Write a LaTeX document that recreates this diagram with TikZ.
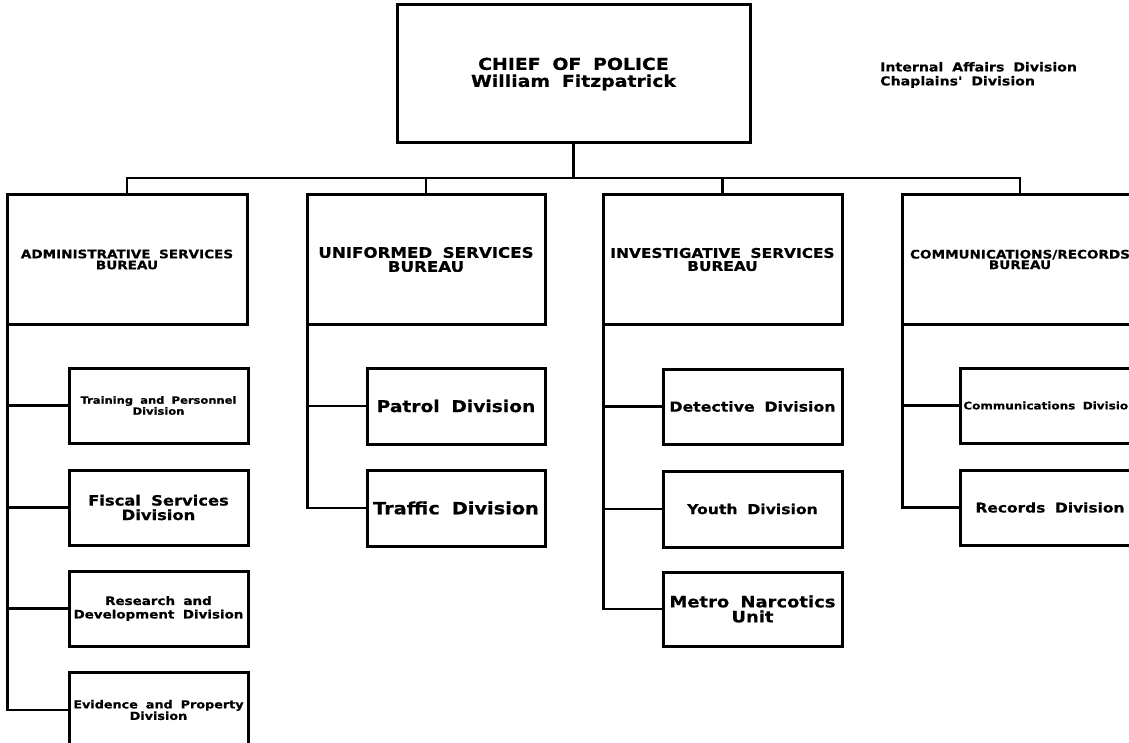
\documentclass[tikz,border=0pt]{standalone}
\usepackage{fontspec}
\setmainfont{DejaVu Sans}
\newfontfamily\wf{DejaVu Sans Bold}[FakeStretch=1.15,WordSpace=1.8,FakeBold=0.6]
\newcommand{\myfs}[2]{\fontsize{#1}{#2}\selectfont}
\begin{document}
\begin{tikzpicture}[x=1pt,y=-1pt,
  box/.style={draw, line width=3pt, rectangle, inner sep=0pt, align=center},
  conn/.style={line width=2.6pt},
  txt/.style={inner sep=0pt, align=left}]
\useasboundingbox (0,0) rectangle (1129,743);
\clip (0,0) rectangle (1129,743);
% chief
\node[box, minimum width=353pt, minimum height=138pt, font=\wf\myfs{16.4}{17}] (chief) at (573.5,74) {CHIEF OF POLICE\\William Fitzpatrick};
\node[txt, anchor=west, font=\wf\myfs{12.3}{14}] (staff) at (880,75) {Internal Affairs Division\\Chaplains' Division};
% bureaus
\node[box, minimum width=240pt, minimum height=129pt, font=\wf\myfs{11.8}{11}] (admin) at (127,259.5) {ADMINISTRATIVE SERVICES\\BUREAU};
\node[box, minimum width=238pt, minimum height=129pt, font=\wf\myfs{14.5}{14}] (unif) at (426,259.5) {UNIFORMED SERVICES\\BUREAU};
\node[box, minimum width=239pt, minimum height=129pt, font=\wf\myfs{13.4}{13}] (inv) at (722.5,259.5) {INVESTIGATIVE SERVICES\\BUREAU};
\node[box, minimum width=236pt, minimum height=129pt, font=\wf\myfs{11.8}{10.5}] (comm) at (1020,259.5) {COMMUNICATIONS/RECORDS\\BUREAU};
% admin divisions
\node[box, minimum width=179pt, minimum height=75pt, font=\wf\myfs{10}{11}] (train) at (158.5,405.5) {Training and Personnel\\Division};
\node[box, minimum width=179pt, minimum height=75pt, font=\wf\myfs{14.2}{14.5}] (fiscal) at (158.5,507.5) {Fiscal Services\\Division};
\node[box, minimum width=179pt, minimum height=75pt, font=\wf\myfs{11.7}{13.5}] (research) at (158.5,608.5) {Research and\\Development Division};
\node[box, minimum width=179pt, minimum height=76pt, font=\wf\myfs{11.1}{11.5}] (evid) at (158.5,710) {Evidence and Property\\Division};
% uniformed divisions
\node[box, minimum width=178pt, minimum height=76pt, font=\wf\myfs{16.2}{16}] (patrol) at (456,406) {Patrol Division};
\node[box, minimum width=178pt, minimum height=76pt, font=\wf\myfs{16.8}{16}] (traffic) at (456,508) {Traffic Division};
% investigative divisions
\node[box, minimum width=179pt, minimum height=75pt, font=\wf\myfs{13.7}{14}] (det) at (752.5,406.5) {Detective Division};
\node[box, minimum width=179pt, minimum height=76pt, font=\wf\myfs{13.6}{14}] (youth) at (752.5,509) {Youth Division};
\node[box, minimum width=179pt, minimum height=74pt, font=\wf\myfs{15.6}{15}] (metro) at (752.5,609) {Metro Narcotics\\Unit};
% communications divisions
\node[box, minimum width=180pt, minimum height=75pt, font=\wf\myfs{10.4}{11}] (commdiv) at (1050,405.5) {Communications Division};
\node[box, minimum width=180pt, minimum height=75pt, font=\wf\myfs{13.4}{14}] (records) at (1050,507.5) {Records Division};
% connectors
\coordinate (bj) at (573.5,178);
\draw[conn] (chief.south) -- (bj);
\draw[conn] (admin.north) |- (bj) -| (comm.north);
\draw[conn] (unif.north) -- (unif.north |- bj);
\draw[conn] (inv.north) -- (inv.north |- bj);
\foreach \s in {train,fiscal,research,evid}
  \draw[conn] ([xshift=2pt]admin.south west) |- (\s.west);
\foreach \s in {patrol,traffic}
  \draw[conn] ([xshift=2pt]unif.south west) |- (\s.west);
\foreach \s in {det,youth,metro}
  \draw[conn] ([xshift=2pt]inv.south west) |- (\s.west);
\foreach \s in {commdiv,records}
  \draw[conn] ([xshift=2pt]comm.south west) |- (\s.west);
\end{tikzpicture}
\end{document}
